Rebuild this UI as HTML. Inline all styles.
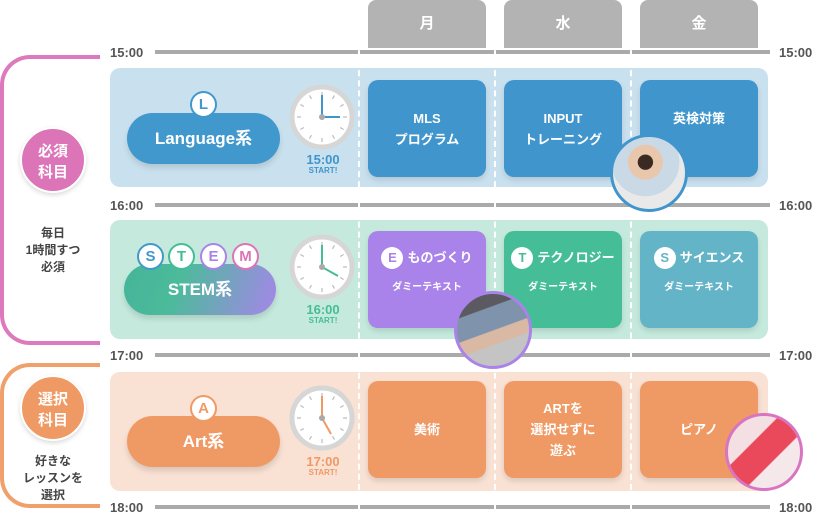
<!DOCTYPE html><html><head><meta charset="utf-8"><style>
*{margin:0;padding:0;box-sizing:border-box}
body{width:817px;height:515px;background:#fff;position:relative;overflow:hidden;font-family:"Liberation Sans","Noto Sans CJK JP",sans-serif;font-weight:bold}
.a{position:absolute}
.tab{position:absolute;top:0;width:118px;height:48px;background:#b3b3b3;border-radius:8px 8px 0 0;color:#fff;font-size:15px;text-align:center;line-height:48px}
.tm{position:absolute;font-size:13px;color:#555}
.ln{position:absolute;left:155px;width:615px;height:4px;background:#aaa}
.row{position:absolute;left:110px;width:658px;height:119px;border-radius:10px}
.cell{position:absolute;width:118px;height:97px;border-radius:10px;color:#fff;font-size:13px;text-align:center;display:flex;flex-direction:column;justify-content:center;align-items:center;line-height:21px;box-shadow:0 3px 6px rgba(0,0,0,.12)}
.dash{position:absolute;top:40px;height:470px;border-left:2px dashed #fff}
.pill{position:absolute;left:127px;width:153px;height:51px;border-radius:26px;color:#fff;font-size:17px;text-align:center;line-height:51px;box-shadow:0 4px 6px rgba(0,0,0,.12)}
.bd{position:absolute;width:27px;height:27px;border-radius:50%;background:#fff;border:2px solid;text-align:center;line-height:23px;font-size:15px}
.big{position:absolute;left:20px;width:66px;height:66px;border-radius:50%;color:#fff;font-size:15px;text-align:center;line-height:21px;padding-top:12px;border:2px solid #fff;box-shadow:0 2px 5px rgba(0,0,0,.15)}
.sub{position:absolute;left:10px;width:86px;text-align:center;font-size:12px;color:#444;line-height:17px}
.st{position:absolute;left:298px;width:50px;text-align:center;font-size:13px;line-height:13px}
.st small{display:block;font-size:8px;line-height:9px}
.ph{position:absolute;width:78px;height:78px;border-radius:50%;border:3px solid}
</style></head><body>
<div class="tab" style="left:368px">月</div>
<div class="tab" style="left:504px">水</div>
<div class="tab" style="left:640px">金</div>

<div class="a" style="left:0;top:55px;width:100px;height:290px;border:4px solid #dd7abd;border-right:none;border-radius:30px 0 0 30px"></div>
<div class="a" style="left:0;top:363px;width:100px;height:145px;border:4px solid #f0a06a;border-right:none;border-radius:30px 0 0 30px"></div>

<div class="row" style="top:68px;background:#c9e1ef"></div>
<div class="row" style="top:220px;background:#c5eadd"></div>
<div class="row" style="top:372px;background:#f9e1d3"></div>

<div class="ln" style="top:50px"></div><div class="ln" style="top:203px"></div><div class="ln" style="top:353px"></div><div class="ln" style="top:505px"></div>
<div class="tm" style="left:110px;top:45px">15:00</div><div class="tm" style="left:779px;top:45px">15:00</div>
<div class="tm" style="left:110px;top:198px">16:00</div><div class="tm" style="left:779px;top:198px">16:00</div>
<div class="tm" style="left:110px;top:348px">17:00</div><div class="tm" style="left:779px;top:348px">17:00</div>
<div class="tm" style="left:110px;top:500px">18:00</div><div class="tm" style="left:779px;top:500px">18:00</div>

<div class="dash" style="left:358px"></div><div class="dash" style="left:494px"></div><div class="dash" style="left:630px"></div>

<div class="cell" style="left:368px;top:80px;background:#3f95cc">MLS<br>プログラム</div>
<div class="cell" style="left:504px;top:80px;background:#3f95cc">INPUT<br>トレーニング</div>
<div class="cell" style="left:640px;top:80px;background:#3f95cc;justify-content:flex-start;padding-top:28px">英検対策</div>

<div class="cell" style="left:368px;top:231px;background:#a983ea;justify-content:flex-start;padding-top:16px"><div style="font-size:13px"><span style="display:inline-block;width:22px;height:22px;border-radius:50%;background:#fff;color:#a983ea;line-height:22px;margin-right:4px">E</span>ものづくり</div><div style="font-size:10px;margin-top:8px">ダミーテキスト</div></div>
<div class="cell" style="left:504px;top:231px;background:#45bd96;justify-content:flex-start;padding-top:16px"><div style="font-size:13px"><span style="display:inline-block;width:22px;height:22px;border-radius:50%;background:#fff;color:#45bd96;line-height:22px;margin-right:4px">T</span>テクノロジー</div><div style="font-size:10px;margin-top:8px">ダミーテキスト</div></div>
<div class="cell" style="left:640px;top:231px;background:#64b4c8;justify-content:flex-start;padding-top:16px"><div style="font-size:13px"><span style="display:inline-block;width:22px;height:22px;border-radius:50%;background:#fff;color:#64b4c8;line-height:22px;margin-right:4px">S</span>サイエンス</div><div style="font-size:10px;margin-top:8px">ダミーテキスト</div></div>

<div class="cell" style="left:368px;top:381px;background:#ef9a65">美術</div>
<div class="cell" style="left:504px;top:381px;background:#ef9a65">ARTを<br>選択せずに<br>遊ぶ</div>
<div class="cell" style="left:640px;top:381px;background:#ef9a65">ピアノ</div>

<div class="big" style="top:127px;background:#dc74b8">必須<br>科目</div>
<div class="sub" style="top:225px">毎日<br>1時間すつ<br>必須</div>
<div class="big" style="top:375px;background:#ef9a65">選択<br>科目</div>
<div class="sub" style="top:453px">好きな<br>レッスンを<br>選択</div>

<div class="pill" style="top:113px;background:#4098cd">Language系</div>
<div class="bd" style="left:190px;top:91px;border-color:#4098cd;color:#4098cd">L</div>
<div class="pill" style="left:124px;top:264px;width:152px;background:linear-gradient(110deg,#45b49a 0%,#4bbb9a 35%,#a685ea 100%)">STEM系</div>
<div class="bd" style="left:137px;top:243px;border-color:#4098cd;color:#4098cd">S</div>
<div class="bd" style="left:168px;top:243px;border-color:#45bd96;color:#45bd96">T</div>
<div class="bd" style="left:200px;top:243px;border-color:#a983ea;color:#a983ea">E</div>
<div class="bd" style="left:232px;top:243px;border-color:#dc74b8;color:#dc74b8">M</div>
<div class="pill" style="top:416px;background:#ef9a65">Art系</div>
<div class="bd" style="left:190px;top:395px;border-color:#ef9a65;color:#ef9a65">A</div>

<svg class="a" style="left:0;top:0" width="817" height="515">
<defs><g id="tk" stroke="#bbb" stroke-width="1.2">
<line x1="0" y1="-25" x2="0" y2="-21"/><line x1="0" y1="25" x2="0" y2="21"/><line x1="-25" y1="0" x2="-21" y2="0"/><line x1="25" y1="0" x2="21" y2="0"/>
<line x1="12.5" y1="-21.6" x2="10.5" y2="-18.2"/><line x1="21.6" y1="-12.5" x2="18.2" y2="-10.5"/><line x1="21.6" y1="12.5" x2="18.2" y2="10.5"/><line x1="12.5" y1="21.6" x2="10.5" y2="18.2"/>
<line x1="-12.5" y1="-21.6" x2="-10.5" y2="-18.2"/><line x1="-21.6" y1="-12.5" x2="-18.2" y2="-10.5"/><line x1="-21.6" y1="12.5" x2="-18.2" y2="10.5"/><line x1="-12.5" y1="21.6" x2="-10.5" y2="18.2"/></g></defs>
<g transform="translate(322,117)"><circle r="30" fill="#fff" stroke="#d6d6d6" stroke-width="5"/><use href="#tk"/><line x1="0" y1="0" x2="0" y2="-22" stroke="#3f95cc" stroke-width="2"/><line x1="0" y1="0" x2="18" y2="0" stroke="#3f95cc" stroke-width="2"/><circle r="3" fill="#aaa"/></g>
<g transform="translate(322,267)"><circle r="30" fill="#fff" stroke="#d6d6d6" stroke-width="5"/><use href="#tk"/><line x1="0" y1="0" x2="0" y2="-22" stroke="#45bd96" stroke-width="2"/><line x1="0" y1="0" x2="16" y2="9" stroke="#45bd96" stroke-width="2"/><circle r="3" fill="#aaa"/></g>
<g transform="translate(322,418)"><circle r="30" fill="#fff" stroke="#d6d6d6" stroke-width="5"/><use href="#tk"/><line x1="0" y1="0" x2="0" y2="-22" stroke="#ef9a65" stroke-width="2"/><line x1="0" y1="0" x2="9" y2="16" stroke="#ef9a65" stroke-width="2"/><circle r="3" fill="#aaa"/></g>
</svg>
<div class="st" style="top:153px;color:#3f95cc">15:00<small>START!</small></div>
<div class="st" style="top:303px;color:#45bd96">16:00<small>START!</small></div>
<div class="st" style="top:455px;color:#ef9a65">17:00<small>START!</small></div>

<div class="ph" style="left:610px;top:134px;border-color:#3f95cc;background:radial-gradient(circle at 45% 35%,#3a2a22 0 12%,#e9c7ad 13% 28%,#c9d9e6 29% 55%,#e9e9e9 56%)"></div>
<div class="ph" style="left:454px;top:291px;border-color:#a983ea;background:linear-gradient(160deg,#5a5a60 0 25%,#7f93ad 26% 50%,#d9b9a4 51% 65%,#c4c4c4 66%)"></div>
<div class="ph" style="left:725px;top:413px;border-color:#d874c0;background:linear-gradient(135deg,#f4dfe2 0 35%,#e9495a 36% 62%,#f5e8ea 63%)"></div>
</body></html>
